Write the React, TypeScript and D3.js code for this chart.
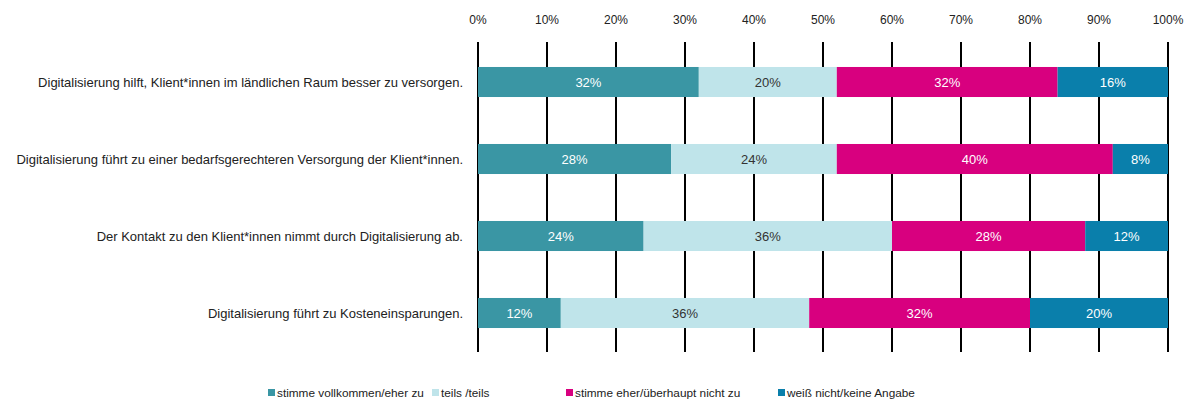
import React from "react";
import * as d3 from "d3";

const categories = [
  "Digitalisierung hilft, Klient*innen im ländlichen Raum besser zu versorgen.",
  "Digitalisierung führt zu einer bedarfsgerechteren Versorgung der Klient*innen.",
  "Der Kontakt zu den Klient*innen nimmt durch Digitalisierung ab.",
  "Digitalisierung führt zu Kosteneinsparungen.",
];
const seriesNames = [
  "stimme vollkommen/eher zu",
  "teils /teils",
  "stimme eher/überhaupt nicht zu",
  "weiß nicht/keine Angabe",
];
const agree = [32, 28, 24, 12];
const partly = [20, 24, 36, 36];
const disagree = [32, 40, 28, 32];
const unknown = [16, 8, 12, 20];
const tickValues = [0, 10, 20, 30, 40, 50, 60, 70, 80, 90, 100];

const colors = ["#3a96a4", "#bfe4ea", "#d8007f", "#0a7fab"];
const labelColors = ["#ffffff", "#333333", "#ffffff", "#ffffff"];
const legendX = [268, 432, 566, 778];

export default function App() {
  const W = 1200, H = 401;
  const x = d3.scaleLinear().domain([0, 100]).range([478, 1168]);
  const y = d3.scaleBand().domain(categories).range([43.5, 351.5]).paddingInner(0.61).paddingOuter(0.305);
  const series = [agree, partly, disagree, unknown];
  const font = "'Liberation Sans', Arial, sans-serif";

  const rows = categories.map((c, i) => {
    let acc = 0;
    return series.map((s, k) => {
      const x0 = acc;
      acc += s[i];
      return { c, k, x0, x1: acc, v: s[i] };
    });
  });

  return (
    <svg width={W} height={H} style={{ position: "absolute", left: 0, top: 0 }} fontFamily={font}>
      <rect width={W} height={H} fill="#fff" />
      {tickValues.map((t) => (
        <g key={t}>
          <line x1={x(t)} x2={x(t)} y1={42} y2={352} stroke="#000" strokeWidth={2} />
          <text x={x(t)} y={24} textAnchor="middle" fontSize={12} fill="#222">{t}%</text>
        </g>
      ))}
      {rows.map((segs, i) => (
        <g key={i}>
          {segs.map((s) => (
            <g key={s.k}>
              <rect x={x(s.x0)} width={x(s.x1) - x(s.x0)} y={y(s.c)!} height={y.bandwidth()} fill={colors[s.k]} />
              <text x={(x(s.x0) + x(s.x1)) / 2} y={y(s.c)! + y.bandwidth() / 2 + 4.5} textAnchor="middle" fontSize={13} fill={labelColors[s.k]}>{s.v}%</text>
            </g>
          ))}
          <text x={463} y={y(categories[i])! + y.bandwidth() / 2 + 4.5} textAnchor="end" fontSize={13} fill="#222">{categories[i]}</text>
        </g>
      ))}
      {seriesNames.map((n, k) => (
        <g key={n}>
          <rect x={legendX[k]} y={389} width={7} height={7} fill={colors[k]} />
          <text x={legendX[k] + 9} y={397} fontSize={11.8} fill="#222">{n}</text>
        </g>
      ))}
    </svg>
  );
}
